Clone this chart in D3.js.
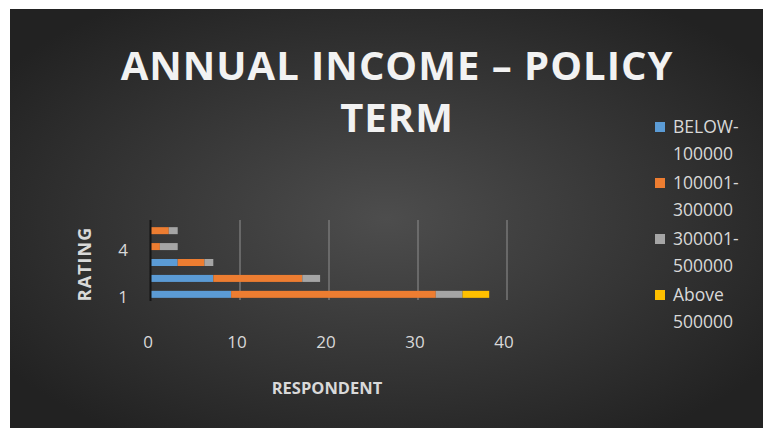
<!DOCTYPE html>
<html>
<head>
<meta charset="utf-8">
<script src="https://cdn.jsdelivr.net/npm/d3@7"></script>
<style>
  html, body { margin: 0; padding: 0; background: #fff; }
  svg { display: block; }
</style>
</head>
<body>
<svg id="chart" width="763" height="428"></svg>
<script>
// ---- data ----
const categories = ["1", "2", "3", "4", "5"];
const seriesNames = ["BELOW-100000", "100001-300000", "300001-500000", "Above 500000"];
const legendLines = [["BELOW-", "100000"], ["100001-", "300000"], ["300001-", "500000"], ["Above", "500000"]];
const below100000 = [9, 7, 3, 0, 0];
const from100001to300000 = [23, 10, 3, 1, 2];
const from300001to500000 = [3, 2, 1, 2, 1];
const above500000 = [3, 0, 0, 0, 0];
const xTicks = [0, 10, 20, 30, 40];
const yTickLabels = ["1", "4"];
const titleLines = ["ANNUAL INCOME – POLICY", "TERM"];
const xTitle = "RESPONDENT";
const yTitle = "RATING";
const colors = ["#5b9bd5", "#ed7d31", "#a5a5a5", "#ffc000"];

const seriesValues = [below100000, from100001to300000, from300001to500000, above500000];
const table = categories.map((c, i) => {
  const row = { cat: c };
  seriesNames.forEach((s, j) => row[s] = seriesValues[j][i]);
  return row;
});

const svg = d3.select("#chart");
const W = 763, H = 428;

// background
const defs = svg.append("defs");
const rg = defs.append("radialGradient").attr("id", "bg")
  .attr("cx", "50%").attr("cy", "50%").attr("r", "62%");
rg.append("stop").attr("offset", "0%").attr("stop-color", "#4d4d4d");
rg.append("stop").attr("offset", "100%").attr("stop-color", "#222222");
svg.append("rect").attr("x", 0).attr("y", 0).attr("width", W).attr("height", H).attr("fill", "#ffffff");
svg.append("rect").attr("x", 10).attr("y", 9).attr("width", W - 10).attr("height", H - 9).attr("fill", "url(#bg)");

// scales
const x = d3.scaleLinear().domain([0, 40]).range([151, 507]);
const y = d3.scaleBand().domain(categories).range([302.3, 222.7]).paddingInner(0.56).paddingOuter(0.28);

// gridlines
svg.append("g").selectAll("line").data(xTicks.slice(1)).join("line")
  .attr("x1", d => x(d)).attr("x2", d => x(d))
  .attr("y1", 220).attr("y2", 300)
  .attr("stroke", "#7f7f7f").attr("stroke-width", 1.3);

// stacked bars
const stack = d3.stack().keys(seriesNames)(table);
svg.append("g").selectAll("g").data(stack).join("g")
  .attr("fill", (d, i) => colors[i])
  .selectAll("rect").data(d => d).join("rect")
  .attr("x", d => x(d[0]))
  .attr("y", d => y(d.data.cat))
  .attr("width", d => Math.max(0, x(d[1]) - x(d[0])))
  .attr("height", y.bandwidth());

// y axis line
svg.append("line").attr("x1", x(0) - 0.5).attr("x2", x(0) - 0.5)
  .attr("y1", 220).attr("y2", 301).attr("stroke", "#151515").attr("stroke-width", 2);

// x tick labels
const labelColor = "#d9d9d9";
svg.append("g").selectAll("text").data(xTicks).join("text")
  .attr("x", d => x(d) - 3).attr("y", 348)
  .attr("text-anchor", "middle")
  .attr("font-family", "'Open Sans', sans-serif").attr("font-size", 17)
  .attr("fill", labelColor).text(d => d);

// y tick labels
svg.append("g").selectAll("text").data(yTickLabels).join("text")
  .attr("x", 123).attr("y", d => y(d) + y.bandwidth() / 2 + 9)
  .attr("text-anchor", "middle")
  .attr("font-family", "'Open Sans', sans-serif").attr("font-size", 17)
  .attr("fill", labelColor).text(d => d);

// axis titles
svg.append("text").attr("x", 327).attr("y", 394).attr("text-anchor", "middle")
  .attr("font-family", "'Open Sans', sans-serif").attr("font-weight", "bold").attr("font-size", 16.5)
  .attr("fill", labelColor).text(xTitle);
svg.append("text").attr("transform", "translate(91,264) rotate(-90)").attr("text-anchor", "middle")
  .attr("font-family", "'Open Sans', sans-serif").attr("font-weight", "bold").attr("font-size", 18)
  .attr("letter-spacing", 1)
  .attr("fill", labelColor).text(yTitle);

// title
svg.append("g").selectAll("text").data(titleLines).join("text")
  .attr("x", 397).attr("y", (d, i) => 80 + i * 52)
  .attr("text-anchor", "middle")
  .attr("font-family", "'Open Sans', sans-serif").attr("font-weight", "bold").attr("font-size", 40)
  .attr("letter-spacing", 1)
  .attr("fill", "#f2f2f2").text(d => d);

// legend
const lg = svg.append("g");
legendLines.forEach((lines, i) => {
  const cy = 127 + i * 56;
  lg.append("rect").attr("x", 655).attr("y", cy - 5).attr("width", 10).attr("height", 10).attr("fill", colors[i]);
  lines.forEach((t, k) => {
    lg.append("text").attr("x", 673).attr("y", cy + 6 + k * 27)
      .attr("font-family", "'Open Sans', sans-serif").attr("font-size", 17.5)
      .attr("fill", labelColor).text(t);
  });
});
</script>
</body>
</html>
